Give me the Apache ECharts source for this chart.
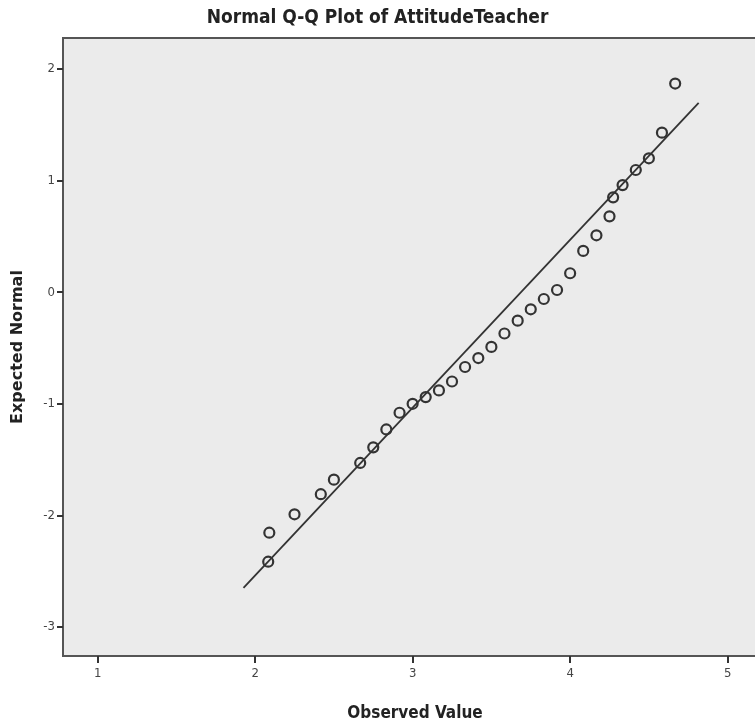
<!DOCTYPE html>
<html>
<head>
<meta charset="utf-8">
<script src="https://cdn.jsdelivr.net/npm/echarts@6/dist/echarts.min.js"></script>
<style>
html,body{margin:0;padding:0;background:#fff;}
#chart{width:755px;height:725px;}
</style>
</head>
<body>
<div id="chart"></div>
<script>
const observed = [2.083, 2.09, 2.25, 2.417, 2.5, 2.667, 2.75, 2.833, 2.917, 3.0, 3.083, 3.167, 3.25, 3.333, 3.417, 3.5, 3.583, 3.667, 3.75, 3.833, 3.917, 4.0, 4.083, 4.167, 4.25, 4.273, 4.333, 4.417, 4.5, 4.583, 4.667];
const expected = [-2.415, -2.155, -1.99, -1.81, -1.68, -1.53, -1.39, -1.23, -1.08, -1.00, -0.94, -0.88, -0.80, -0.67, -0.59, -0.49, -0.37, -0.255, -0.153, -0.061, 0.02, 0.17, 0.37, 0.51, 0.68, 0.85, 0.96, 1.095, 1.20, 1.43, 1.87];
const lineX = [1.926, 4.816];
const lineY = [-2.65, 1.696];
const xTicks = [1, 2, 3, 4, 5];
const yTicks = [-3, -2, -1, 0, 1, 2];

const narrow = "'Liberation Sans Narrow', 'DejaVu Sans Condensed', 'Noto Sans', sans-serif";
const chart = echarts.init(document.getElementById('chart'), null, {renderer: 'canvas'});
const pts = observed.map((x, i) => [x, expected[i]]);
const linePts = lineX.map((x, i) => [x, lineY[i]]);

chart.setOption({
  animation: false,
  backgroundColor: '#ffffff',
  title: {
    text: 'Normal Q-Q Plot of AttitudeTeacher',
    left: 'center',
    top: 4,
    textStyle: {fontFamily: narrow, fontWeight: 'bold', fontSize: 19, color: '#222'}
  },
  grid: {
    left: 63, top: 38, width: 704, height: 618,
    containLabel: false, outerBoundsMode: 'none',
    show: true, backgroundColor: '#ebebeb', borderColor: '#555', borderWidth: 2
  },
  xAxis: {
    type: 'value', min: 0.78, max: 5.25,
    name: 'Observed Value', nameLocation: 'middle', nameGap: 49,
    nameTextStyle: {fontFamily: narrow, fontWeight: 'bold', fontSize: 17, color: '#222'},
    splitLine: {show: false},
    axisLine: {show: true, onZero: false, lineStyle: {color: '#555', width: 2}},
    axisTick: {show: true, inside: false, customValues: xTicks, length: 7, lineStyle: {color: '#333', width: 2}},
    axisLabel: {customValues: xTicks, fontFamily: narrow, fontSize: 13, color: '#444', margin: 11}
  },
  yAxis: {
    type: 'value', min: -3.26, max: 2.278,
    name: 'Expected Normal', nameLocation: 'middle', nameGap: 37,
    nameTextStyle: {fontFamily: "'DejaVu Sans', sans-serif", fontWeight: 'bold', fontSize: 16, color: '#222'},
    splitLine: {show: false},
    axisLine: {show: true, onZero: false, lineStyle: {color: '#555', width: 2}},
    axisTick: {show: true, inside: false, customValues: yTicks, length: 6, lineStyle: {color: '#333', width: 2}},
    axisLabel: {customValues: yTicks, fontFamily: narrow, fontSize: 13, color: '#444', margin: 8}
  },
  series: [
    {
      type: 'line', data: linePts, symbol: 'none',
      lineStyle: {color: '#333', width: 1.8}, z: 2
    },
    {
      type: 'scatter', data: pts, symbol: 'circle', symbolSize: 10,
      itemStyle: {color: 'rgba(0,0,0,0)', borderColor: '#333', borderWidth: 2.2, opacity: 1}, z: 3
    }
  ]
});
</script>
</body>
</html>
